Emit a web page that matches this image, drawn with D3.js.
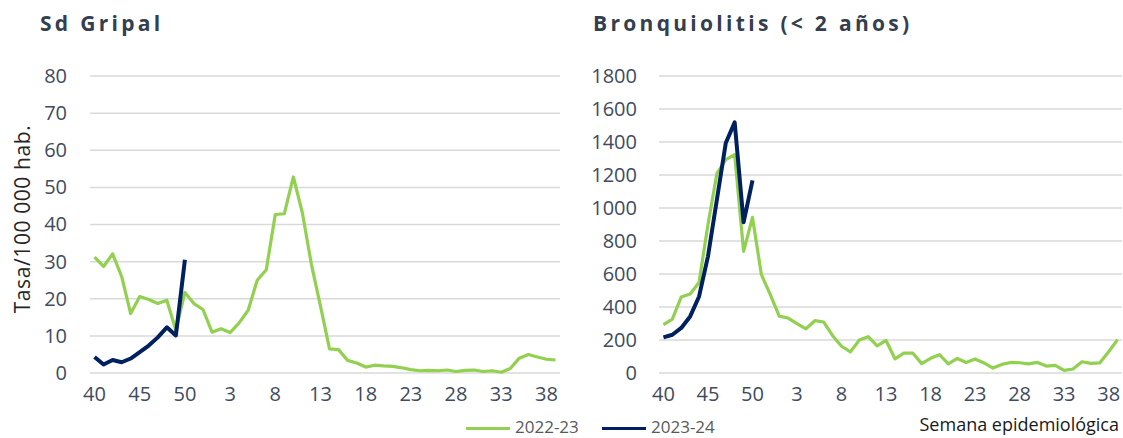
<!DOCTYPE html>
<html>
<head>
<meta charset="utf-8">
<script src="https://cdn.jsdelivr.net/npm/d3@7"></script>
<style>
  html, body { margin: 0; padding: 0; background: #fff; }
  svg { display: block; font-family: "Open Sans", sans-serif; }
</style>
</head>
<body>
<svg id="chart" width="1123" height="438"></svg>
<script>
// Epidemiological weeks (season runs week 40 to week 39)
const weeks = [40,41,42,43,44,45,46,47,48,49,50,51,52,1,2,3,4,5,6,7,8,9,10,11,12,13,14,15,16,17,18,19,20,21,22,23,24,25,26,27,28,29,30,31,32,33,34,35,36,37,38,39];
const tickWeeks = [40,45,50,3,8,13,18,23,28,33,38];

// Sd Gripal (rate / 100 000)
const gripal2223 = [31.2,28.7,32.1,26.0,16.0,20.6,19.8,18.7,19.6,11.5,21.7,18.7,17.1,11.0,11.9,10.9,13.5,16.9,25.0,27.8,42.7,42.9,52.8,43.1,29.2,18.0,6.5,6.3,3.4,2.7,1.6,2.1,1.9,1.8,1.4,0.9,0.6,0.7,0.6,0.8,0.4,0.7,0.8,0.4,0.6,0.2,1.2,4.0,5.0,4.3,3.7,3.5];
const gripal2324 = [4.3,2.3,3.5,2.9,3.9,5.6,7.4,9.6,12.3,10.1,30.5];

// Bronquiolitis (< 2 años)
const bronq2223 = [293,327,461,479,549,900,1208,1293,1323,737,943,596,475,345,333,299,268,317,309,226,162,128,200,220,165,197,86,121,121,57,89,111,56,88,64,85,61,30,52,64,62,55,64,42,46,16,24,68,58,61,129,202];
const bronq2324 = [216,232,273,343,464,707,1050,1394,1519,913,1167];

const gripalTicks = [0,10,20,30,40,50,60,70,80];
const bronqTicks = [0,200,400,600,800,1000,1200,1400,1600,1800];

const seriesNames = ["2022-23","2023-24"];
const colors = {"2022-23": "#92d050", "2023-24": "#002060"};

const svg = d3.select("#chart");
const axisColor = "#404b5e";

function panel(opts) {
  const x = d3.scaleBand().domain(d3.range(weeks.length)).range([opts.x0, opts.x1]);
  const y = d3.scaleLinear().domain([0, opts.max]).range([373, 76]);
  const g = svg.append("g");

  // gridlines
  g.selectAll("line.grid").data(opts.ticks).enter().append("line")
    .attr("x1", opts.x0).attr("x2", opts.x1)
    .attr("y1", d => y(d)).attr("y2", d => y(d))
    .attr("stroke", "#d9d9d9").attr("stroke-width", 1.5);

  // y axis labels
  const yAxis = d3.axisLeft(y).tickValues(opts.ticks).tickFormat(d3.format("d")).tickSize(0).tickPadding(0);
  const ya = g.append("g").attr("transform", `translate(${opts.labelX},0)`).call(yAxis);
  ya.select(".domain").remove();
  ya.selectAll("text").attr("font-size", 20).attr("fill", axisColor)
    .attr("font-family", '"Open Sans", sans-serif');

  // x axis labels
  const xAxis = d3.axisBottom(x)
    .tickValues(d3.range(weeks.length).filter(i => tickWeeks.includes(weeks[i])))
    .tickFormat(i => weeks[i]).tickSize(0).tickPadding(0);
  const xa = g.append("g").attr("transform", "translate(0,387)").call(xAxis);
  xa.select(".domain").remove();
  xa.selectAll("text").attr("font-size", 20).attr("fill", axisColor)
    .attr("font-family", '"Open Sans", sans-serif').attr("dy", "0.71em");

  const line = d3.line()
    .x((d, i) => x(i) + x.bandwidth() / 2)
    .y(d => y(d))
    .curve(d3.curveLinear);

  g.append("path").datum(opts.a).attr("d", line)
    .attr("fill", "none").attr("stroke", colors["2022-23"])
    .attr("stroke-width", 3.2).attr("stroke-linejoin", "round");
  g.append("path").datum(opts.b).attr("d", line)
    .attr("fill", "none").attr("stroke", colors["2023-24"])
    .attr("stroke-width", 4).attr("stroke-linejoin", "round");

  // title
  svg.append("text").attr("x", opts.titleX).attr("y", 31)
    .attr("font-size", 21).attr("font-weight", "bold")
    .attr("letter-spacing", 3.3).attr("fill", "#333f50")
    .text(opts.title);
}

panel({x0: 90, x1: 560, max: 80, ticks: gripalTicks, labelX: 67,
       a: gripal2223, b: gripal2324, title: "Sd Gripal", titleX: 40});
panel({x0: 659, x1: 1122, max: 1800, ticks: bronqTicks, labelX: 637,
       a: bronq2223, b: bronq2324, title: "Bronquiolitis (< 2 años)", titleX: 593});

// y-axis title
svg.append("text")
  .attr("transform", "translate(30,219) rotate(-90)")
  .attr("text-anchor", "middle")
  .attr("font-size", 21).attr("letter-spacing", 0.6).attr("fill", "#262626")
  .text("Tasa/100 000 hab.");

// x-axis title
svg.append("text").attr("x", 1119).attr("y", 431)
  .attr("text-anchor", "end").attr("font-size", 18).attr("fill", "#1a1a1a")
  .text("Semana epidemiológica");

// legend
const legendItems = [{name: seriesNames[0], x: 466}, {name: seriesNames[1], x: 602}];
const lg = svg.append("g");
legendItems.forEach(it => {
  lg.append("line").attr("x1", it.x).attr("x2", it.x + 44)
    .attr("y1", 428.5).attr("y2", 428.5)
    .attr("stroke", colors[it.name]).attr("stroke-width", it.name === "2023-24" ? 3.2 : 2.8);
  lg.append("text").attr("x", it.x + 49).attr("y", 433)
    .attr("font-size", 17).attr("fill", "#595959").text(it.name);
});
</script>
</body>
</html>
